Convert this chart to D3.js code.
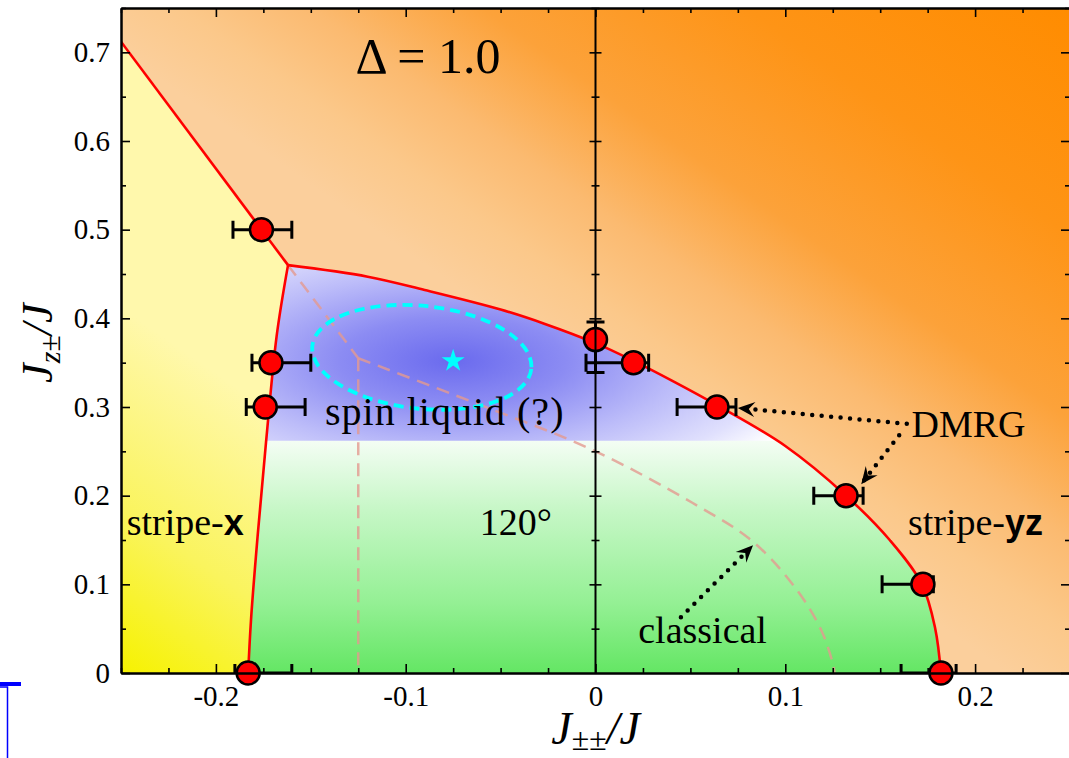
<!DOCTYPE html>
<html>
<head>
<meta charset="utf-8">
<script src="https://cdn.jsdelivr.net/npm/d3@7"></script>
<style>
  body { margin: 0; background: #fff; }
  svg { display: block; }
  svg text { font-family: 'Liberation Serif', 'Tinos', 'DejaVu Serif', 'Noto Serif', serif; fill: #000; }
</style>
</head>
<body>
<svg id="chart" width="1069" height="758"></svg>
<script>
const SERIF = "'Liberation Serif', 'Tinos', 'DejaVu Serif', 'Noto Serif', serif";
const SANS = "'Liberation Sans', Arial, sans-serif";

// tick values and labels
const xTicks = [-0.2, -0.1, 0, 0.1, 0.2];
const xTickLabels = ['-0.2', '-0.1', '0', '0.1', '0.2'];
const yTicks = [0, 0.1, 0.2, 0.3, 0.4, 0.5, 0.6, 0.7];
const yTickLabels = ['0', '0.1', '0.2', '0.3', '0.4', '0.5', '0.6', '0.7'];

// phase boundaries [J++, Jz±]
const outerBoundary = [[-0.25, 0.712], [-0.162, 0.46]];
const leftBoundary = [[-0.162, 0.46], [-0.168, 0.38], [-0.1736, 0.26], [-0.178, 0.155], [-0.1815, 0.06], [-0.183, 0]];
const upperBoundary = [[-0.162, 0.46], [-0.12, 0.447], [-0.09, 0.432], [-0.05, 0.41], [-0.027, 0.394],
  [0, 0.372], [0.02, 0.352], [0.04, 0.33], [0.064, 0.302], [0.1, 0.256], [0.132, 0.20], [0.155, 0.15],
  [0.172, 0.10], [0.179, 0.05], [0.182, 0]];
const spinLiquidBottom = 0.262;

// classical phase boundaries (dashed)
const classicalDiag = [[-0.162, 0.46], [-0.125, 0.355]];
const classicalVert = [[-0.125, 0.355], [-0.125, 0]];
const classicalCurve = [[-0.125, 0.355], [-0.064, 0.305], [-0.003, 0.253], [0.051, 0.192],
  [0.083, 0.148], [0.106, 0.094], [0.119, 0.048], [0.125, 0.011], [0.126, 0]];

// DMRG points with error bars
const dmrgX   = [-0.176, -0.171, -0.174, -0.183, 0,     0.020, 0.064, 0.132, 0.1725, 0.182];
const dmrgY   = [0.5,    0.35,   0.30,   0,      0.376, 0.35,  0.30,  0.20,  0.10,   0];
const dmrgXLo = [-0.191, -0.181, -0.184, -0.190, null,  -0.005, 0.043, 0.115, 0.151, 0.161];
const dmrgXHi = [-0.160, -0.150, -0.153, -0.160, null,  0.028, 0.074, 0.141, 0.178, 0.190];
const dmrgYLo = [null, null, null, null, 0.339, null, null, null, null, null];
const dmrgYHi = [null, null, null, null, 0.396, null, null, null, null, null];

// spin-liquid marker
const starPoint = [-0.075, 0.352];
const ellipseCenter = [-0.0915, 0.356];
const ellipseRadii = [0.058, 0.058];

// text annotations [text, x, y, size, letter spacing]
const labels = [
  ['Δ = 1.0', -0.1265, 0.677, 50, 0],
  ['spin liquid (?)', -0.1425, 0.2795, 40, 1],
  ['120°', -0.061, 0.1556, 38, 0],
  ['DMRG', 0.1665, 0.266, 38, 0],
  ['classical', 0.0225, 0.0338, 38, 0]
];
const arrows = [
  [[0.164, 0.281], [0.075, 0.299]],
  [[0.160, 0.268], [0.140, 0.213]],
  [[0.045, 0.063], [0.083, 0.144]]
];

const svg = d3.select('#chart').attr('font-family', SERIF);
const x = d3.scaleLinear().domain([-0.25, 0.25]).range([121, 1070]);
const y = d3.scaleLinear().domain([0, 0.75]).range([673, 8]);

const defs = svg.append('defs');

defs.append('clipPath').attr('id', 'plotClip')
  .append('rect').attr('x', x(-0.25)).attr('y', y(0.75))
  .attr('width', x(0.25) - x(-0.25)).attr('height', y(0) - y(0.75));
defs.append('clipPath').attr('id', 'slClip')
  .append('rect').attr('x', x(-0.25)).attr('y', y(0.75))
  .attr('width', x(0.25) - x(-0.25)).attr('height', y(spinLiquidBottom) - y(0.75));

function linGrad(id, p0, p1, stops) {
  const g = defs.append('linearGradient').attr('id', id).attr('gradientUnits', 'userSpaceOnUse')
    .attr('x1', p0[0]).attr('y1', p0[1]).attr('x2', p1[0]).attr('y2', p1[1]);
  stops.forEach(s => g.append('stop').attr('offset', s[0]).attr('stop-color', s[1]));
}
// orange: light band along the lower-left diagonal, deep orange at the top right corner
const g0 = [x(-0.25), y(0.7)];
const gDir = [0.573, -0.819];
const gLen = (x(0.25) - g0[0]) * gDir[0] + (y(0.75) - g0[1]) * gDir[1];
linGrad('orangeGrad', g0, [g0[0] + gDir[0] * gLen, g0[1] + gDir[1] * gLen],
  [[0, '#fbcf9c'], [0.12, '#fbc88a'], [0.25, '#fbba70'], [0.42, '#fca23a'], [0.68, '#fe9416'], [1, '#ff8c00']]);
linGrad('yellowGrad', [x(-0.25), y(0)], [x(-0.16), y(0.28)],
  [[0, '#f6f200'], [0.45, '#faf45e'], [1, '#fff8ac']]);
linGrad('greenGrad', [0, y(spinLiquidBottom)], [0, y(0)],
  [[0, '#f4fdf4'], [0.3, '#c6f7c6'], [0.7, '#94f094'], [1, '#64e664']]);

const scx = x(starPoint[0]), scy = y(starPoint[1]);
const rg = defs.append('radialGradient').attr('id', 'blueGrad').attr('gradientUnits', 'userSpaceOnUse')
  .attr('cx', scx).attr('cy', scy).attr('r', 380)
  .attr('gradientTransform', `translate(${scx},${scy}) scale(1,0.38) translate(${-scx},${-scy})`);
[[0, '#6a6aee'], [0.3, '#8c8cf3'], [0.6, '#bcbcf9'], [0.85, '#e0e0fd'], [1, '#ffffff']]
  .forEach(s => rg.append('stop').attr('offset', s[0]).attr('stop-color', s[1]));

defs.append('marker').attr('id', 'arrowHead').attr('markerUnits', 'userSpaceOnUse')
  .attr('viewBox', '-18 -9 20 18').attr('markerWidth', 20).attr('markerHeight', 18)
  .attr('refX', 0).attr('refY', 0).attr('orient', 'auto')
  .append('path').attr('d', 'M0,0 L-17,-7.5 L-11,0 L-17,7.5 Z').attr('fill', '#000');

const line = d3.line().x(d => x(d[0])).y(d => y(d[1]));
const smooth = d3.line().x(d => x(d[0])).y(d => y(d[1])).curve(d3.curveCatmullRom.alpha(0.5));

const upperD = smooth(upperBoundary);
const leftD = smooth(leftBoundary);
const leftRevD = smooth(leftBoundary.slice().reverse());
const innerD = upperD + 'L' + leftRevD.slice(1) + 'Z';
const yellowD = line(outerBoundary) + 'L' + leftD.slice(1) + `L${x(-0.25)},${y(0)}Z`;

const plot = svg.append('g').attr('clip-path', 'url(#plotClip)');
plot.append('rect').attr('x', x(-0.25)).attr('y', y(0.75))
  .attr('width', x(0.25) - x(-0.25)).attr('height', y(0) - y(0.75)).attr('fill', 'url(#orangeGrad)');
plot.append('path').attr('d', yellowD).attr('fill', 'url(#yellowGrad)');
plot.append('path').attr('d', innerD).attr('fill', 'url(#greenGrad)');
plot.append('path').attr('d', innerD).attr('fill', 'url(#blueGrad)').attr('clip-path', 'url(#slClip)');

// classical dashed lines
[line(classicalDiag), line(classicalVert), smooth(classicalCurve)].forEach(d =>
  plot.append('path').attr('d', d).attr('fill', 'none')
    .attr('stroke', '#e49a90').attr('stroke-opacity', 0.8).attr('stroke-width', 2.5)
    .attr('stroke-dasharray', '13,8'));

// red phase boundaries
[line(outerBoundary), leftD, upperD].forEach(d =>
  plot.append('path').attr('d', d).attr('fill', 'none').attr('stroke', '#ff0000').attr('stroke-width', 2.6));

// spin liquid ellipse and star
plot.append('ellipse')
  .attr('cx', x(ellipseCenter[0])).attr('cy', y(ellipseCenter[1]))
  .attr('rx', x(ellipseRadii[0]) - x(0)).attr('ry', y(0) - y(ellipseRadii[1]))
  .attr('transform', `rotate(6,${x(ellipseCenter[0])},${y(ellipseCenter[1])})`)
  .attr('fill', 'none').attr('stroke', '#00ffff').attr('stroke-width', 3.8).attr('stroke-dasharray', '10,6');
plot.append('path').attr('d', d3.symbol(d3.symbolStar, 165)())
  .attr('transform', `translate(${scx},${scy})`).attr('fill', '#00ffff');

// annotations
labels.forEach(l => {
  svg.append('text').attr('x', x(l[1])).attr('y', y(l[2])).attr('font-size', l[3])
    .attr('letter-spacing', l[4]).attr('font-family', SERIF).text(l[0]);
});
[[-0.247, 'x'], [0.1646, 'yz']].forEach(s => {
  const t = svg.append('text').attr('x', x(s[0])).attr('y', y(0.1556)).attr('font-size', 38).attr('font-family', SERIF);
  t.append('tspan').text('stripe-');
  t.append('tspan').attr('font-family', SANS).attr('font-weight', 'bold').attr('font-size', 36).text(s[1]);
});

arrows.forEach(a => {
  svg.append('path').attr('d', line(a)).attr('fill', 'none').attr('stroke', '#000')
    .attr('stroke-width', 4.5).attr('stroke-linecap', 'round').attr('stroke-dasharray', '0,9.5')
    .attr('marker-end', 'url(#arrowHead)');
});

// DMRG error bars and points
const pts = dmrgX.map((d, i) => ({x: d, y: dmrgY[i], xl: dmrgXLo[i], xh: dmrgXHi[i], yl: dmrgYLo[i], yh: dmrgYHi[i]}));
const eb = svg.append('g').attr('clip-path', 'url(#plotClip)')
  .attr('stroke', '#000').attr('stroke-width', 3).attr('fill', 'none');
pts.forEach(p => {
  if (p.xl !== null) {
    eb.append('path').attr('d',
      `M${x(p.xl)},${y(p.y)}H${x(p.xh)}` +
      `M${x(p.xl)},${y(p.y) - 9}V${y(p.y) + 9}` +
      `M${x(p.xh)},${y(p.y) - 9}V${y(p.y) + 9}`);
  }
  if (p.yl !== null) {
    eb.append('path').attr('d',
      `M${x(p.x)},${y(p.yl)}V${y(p.yh)}` +
      `M${x(p.x) - 9},${y(p.yl)}H${x(p.x) + 9}` +
      `M${x(p.x) - 9},${y(p.yh)}H${x(p.x) + 9}`);
  }
});
svg.append('g').selectAll('circle').data(pts).join('circle')
  .attr('cx', d => x(d.x)).attr('cy', d => y(d.y)).attr('r', 11.5)
  .attr('fill', '#ff0000').attr('stroke', '#000').attr('stroke-width', 2.5);

// axes
const xMinor = d3.range(-0.25, 0.2501, 0.025).filter(v => Math.abs(Math.round(v * 10) - v * 10) > 1e-6);
const yMinor = d3.range(0.05, 0.76, 0.1);
const fmtX = (d, i) => xTickLabels[i];
const fmtY = (d, i) => yTickLabels[i];

function styleAxis(g) {
  g.attr('font-family', SERIF).attr('font-size', 29);
  g.selectAll('path.domain').attr('stroke-width', 2);
  g.selectAll('.tick line').attr('stroke-width', 1.6);
  g.selectAll('text').attr('font-family', SERIF).attr('font-size', 29).attr('fill', '#000');
}
svg.append('g').attr('transform', `translate(0,${y(0)})`)
  .call(d3.axisBottom(x).tickValues(xTicks).tickFormat(fmtX).tickSize(-9).tickSizeOuter(0).tickPadding(12)).call(styleAxis);
svg.append('g').attr('transform', `translate(0,${y(0)})`)
  .call(d3.axisBottom(x).tickValues(xMinor).tickFormat('').tickSize(-5).tickSizeOuter(0)).call(styleAxis);
svg.append('g').attr('transform', `translate(0,${y(0.75)})`)
  .call(d3.axisTop(x).tickValues(xTicks).tickFormat('').tickSize(-9).tickSizeOuter(0)).call(styleAxis);
svg.append('g').attr('transform', `translate(0,${y(0.75)})`)
  .call(d3.axisTop(x).tickValues(xMinor).tickFormat('').tickSize(-5).tickSizeOuter(0)).call(styleAxis);
svg.append('g').attr('transform', `translate(${x(-0.25)},0)`)
  .call(d3.axisLeft(y).tickValues(yTicks).tickFormat(fmtY).tickSize(-9).tickSizeOuter(0).tickPadding(11)).call(styleAxis);
svg.append('g').attr('transform', `translate(${x(-0.25)},0)`)
  .call(d3.axisLeft(y).tickValues(yMinor).tickFormat('').tickSize(-5).tickSizeOuter(0)).call(styleAxis);
svg.append('g').attr('transform', `translate(${x(0.25)},0)`)
  .call(d3.axisRight(y).tickValues(yTicks).tickFormat('').tickSize(-9).tickSizeOuter(0)).call(styleAxis);
svg.append('g').attr('transform', `translate(${x(0.25)},0)`)
  .call(d3.axisRight(y).tickValues(yMinor).tickFormat('').tickSize(-5).tickSizeOuter(0)).call(styleAxis);

// vertical zero line with two-sided ticks
svg.append('line').attr('x1', x(0)).attr('x2', x(0)).attr('y1', y(0)).attr('y2', y(0.75))
  .attr('stroke', '#000').attr('stroke-width', 2);
const zeroMajor = svg.append('g').attr('transform', `translate(${x(0) - 6},0)`)
  .call(d3.axisRight(y).tickValues(yTicks.slice(1)).tickFormat('').tickSize(12).tickSizeOuter(0)).call(styleAxis);
const zeroMinor = svg.append('g').attr('transform', `translate(${x(0) - 4},0)`)
  .call(d3.axisRight(y).tickValues(yMinor).tickFormat('').tickSize(8).tickSizeOuter(0)).call(styleAxis);
zeroMajor.select('.domain').remove();
zeroMinor.select('.domain').remove();

// axis titles
const xt = svg.append('text').attr('x', x(0)).attr('y', 744).attr('text-anchor', 'middle')
  .attr('font-family', SERIF).attr('font-size', 46).attr('font-style', 'italic');
xt.append('tspan').text('J');
xt.append('tspan').attr('font-size', 32).attr('dy', 6).text('±±');
xt.append('tspan').attr('dy', -6).text('/J');

const yt = svg.append('text').attr('transform', `translate(52,${y(0.372)}) rotate(-90)`)
  .attr('text-anchor', 'middle').attr('font-family', SERIF).attr('font-size', 44).attr('font-style', 'italic');
yt.append('tspan').text('J');
yt.append('tspan').attr('font-size', 30).attr('dy', 8).text('z±');
yt.append('tspan').attr('dy', -8).text('/J');

// stray blue marks at the lower left
svg.append('line').attr('x1', 0).attr('x2', 21).attr('y1', 684).attr('y2', 684)
  .attr('stroke', '#0000ff').attr('stroke-width', 4);
svg.append('path').attr('d', 'M0,687H7.5V758').attr('fill', 'none')
  .attr('stroke', '#0000ff').attr('stroke-width', 1.5);
</script>
</body>
</html>
